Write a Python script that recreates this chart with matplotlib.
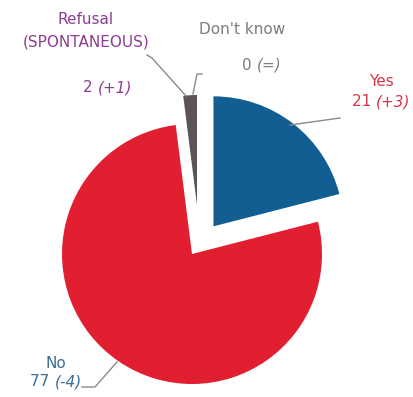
import numpy as np
import matplotlib
matplotlib.use("Agg")
from matplotlib import pyplot as plt

# data
labels = ["Refusal (SPONTANEOUS)", "Don't know", "Yes", "No"]
values = [2, 0, 21, 77]
changes = ["(+1)", "(=)", "(+3)", "(-4)"]
colors = ["#5b5457", "#9a9a9a", "#125e92", "#e21f30"]
text_colors = ["#8c3d91", "#7c7c7c", "#d8354b", "#3b6d98"]

W, H = 414, 397
fig = plt.figure(figsize=(W / 100, H / 100), dpi=100)
ax = fig.add_axes([0, 0, 1, 1])

def Y(y):
    # picture rows -> axis y
    return H - y

R = 130
start = 90 + 360 * values[0] / sum(values)
wedges, _ = ax.pie(values, colors=colors, startangle=start, counterclock=False,
                   explode=[49, 0, 35, 0], radius=R, center=(192, Y(254)),
                   wedgeprops=dict(linewidth=0), frame=True)
# the refusal sliver sits a bit shorter and right of where pie puts it
wedges[0].set_center((197, Y(205)))
wedges[0].set_radius(110)
ax.set_xlim(0, W)
ax.set_ylim(0, H)
ax.set_aspect("equal")
ax.axis("off")

# leader lines
lc = "#8a8a8a"
ax.plot([147, 152, 186], [Y(55), Y(58), Y(96)], color=lc, lw=1)
ax.plot([202, 197, 193], [Y(74), Y(74), Y(94)], color=lc, lw=1)
ax.plot([290, 340], [Y(125), Y(118)], color=lc, lw=1)
ax.plot([117, 95, 82], [Y(362), Y(387), Y(387)], color=lc, lw=1)

fs = 11
def value_label(x, y, i):
    # number upright, change italic, centred as one block around x
    num = "%d " % values[i]
    t1 = ax.text(x, Y(y), num, color=text_colors[i], fontsize=fs, ha="right", va="center")
    t2 = ax.text(x, Y(y), changes[i], color=text_colors[i], fontsize=fs, ha="left",
                 va="center", style="italic")
    fig.canvas.draw()
    w1 = t1.get_window_extent().width
    w2 = t2.get_window_extent().width
    shift = (w1 - w2) / 2
    t1.set_x(x + shift)
    t2.set_x(x + shift)

ax.text(86, Y(20), "Refusal", color=text_colors[0], fontsize=fs, ha="center", va="center")
ax.text(86, Y(42), "(SPONTANEOUS)", color=text_colors[0], fontsize=fs, ha="center", va="center")
value_label(108, 88, 0)

ax.text(242, Y(29), "Don't know", color=text_colors[1], fontsize=fs, ha="center", va="center")
value_label(262, 65, 1)

ax.text(381, Y(82), "Yes", color=text_colors[2], fontsize=fs, ha="center", va="center")
value_label(381, 102, 2)

ax.text(56, Y(363), "No", color=text_colors[3], fontsize=fs, ha="center", va="center")
value_label(56, 382, 3)

fig.savefig("out.png", dpi=100)
